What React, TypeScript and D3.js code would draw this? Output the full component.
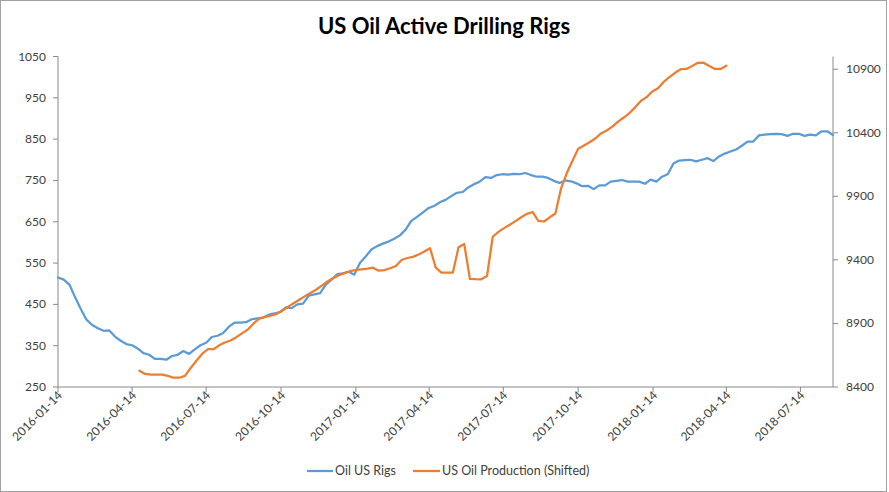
import { useEffect } from 'react';
import * as d3 from 'd3';

// Weekly oil rig count, first week 2016-01-14
const rigStart = '2016-01-14';
const rigCounts = [
  515, 510, 498, 467, 439, 413, 400, 392, 386, 387, 372, 362, 354, 351, 343, 332, 328, 318, 318, 316,
  325, 328, 337, 330, 341, 351, 357, 371, 374, 381, 396, 406, 406, 407, 414, 416, 418, 425, 428, 432,
  443, 441, 450, 452, 471, 474, 477, 498, 510, 523, 525,
  529, 522, 551, 566, 583, 591, 597, 602, 609, 617, 631, 652, 662, 672, 683, 688, 697, 703, 712, 720,
  722, 733, 741, 747, 758, 756, 763, 765, 764, 766, 765, 768, 763, 759, 759, 756, 749, 744, 750, 748,
  743, 736, 737, 729, 738, 738, 747, 749, 751, 747, 747, 747,
  742, 752, 747, 759, 765, 791, 798, 799, 800, 796, 800, 804, 797, 808, 815, 820, 825, 834, 844, 844,
  859, 861, 862, 863, 862, 858, 863, 863, 858, 861, 859, 869, 869, 860,
];

// Weekly US oil production (shifted), first week 2016-04-23
const prodStart = '2016-04-23';
const production = [
  8528, 8503, 8497, 8497, 8497, 8488, 8473, 8473, 8488, 8550, 8606, 8660, 8697, 8697, 8728, 8750,
  8766, 8792, 8822, 8851, 8898, 8938, 8950, 8962, 8973, 8998, 9028, 9057, 9085, 9113, 9140, 9165,
  9197, 9230, 9256, 9280, 9296, 9312, 9322, 9326, 9331, 9339, 9315, 9320, 9334, 9352, 9399, 9415,
  9424, 9442, 9466, 9492, 9339, 9300, 9299, 9299, 9499, 9525, 9250, 9248, 9247, 9273, 9582, 9620,
  9650, 9676, 9705, 9735, 9762, 9777, 9706, 9702, 9735, 9765, 9963, 10083, 10180, 10275, 10300, 10325,
  10355, 10395, 10418, 10448, 10488, 10520, 10555, 10600, 10650, 10680, 10725, 10750, 10800, 10837, 10872, 10900,
  10902, 10925, 10950, 10951, 10925, 10902, 10902, 10928,
];

const xTickLabels = [
  '2016-01-14', '2016-04-14', '2016-07-14', '2016-10-14', '2017-01-14', '2017-04-14',
  '2017-07-14', '2017-10-14', '2018-01-14', '2018-04-14', '2018-07-14',
];
const leftTicks = [250, 350, 450, 550, 650, 750, 850, 950, 1050];
const rightTicks = [8400, 8900, 9400, 9900, 10400, 10900];
const rightMax = 11000;

const seriesNames = ['Oil US Rigs', 'US Oil Production (Shifted)'];
const colors = ['#5B9BD5', '#ED7D31'];

const W = 889;
const H = 492;
const left = 58;
const right = 833;
const top = 56.5;
const bottom = 387;
const font = 'Lato, "Open Sans", sans-serif';
const axisColor = '#898989';
const textColor = '#404040';
const tickSize = 12;

const parse = d3.utcParse('%Y-%m-%d');

type Pt = { date: Date; value: number };

function weekly(start: string, values: number[]): Pt[] {
  const s = parse(start) as Date;
  return values.map((v, i) => ({ date: d3.utcDay.offset(s, i * 7), value: v }));
}

export default function App() {
  useEffect(() => {
    document.body.style.margin = '0';
  }, []);

  const rigs = weekly(rigStart, rigCounts);
  const prod = weekly(prodStart, production);

  const x = d3.scaleUtc()
    .domain([rigs[0].date, rigs[rigs.length - 1].date])
    .range([left, right]);
  const yLeft = d3.scaleLinear().domain([leftTicks[0], leftTicks[leftTicks.length - 1]]).range([bottom, top]);
  const yRight = d3.scaleLinear().domain([rightTicks[0], rightMax]).range([bottom, top]);

  const lineLeft = d3.line<Pt>().x(d => x(d.date)).y(d => yLeft(d.value));
  const lineRight = d3.line<Pt>().x(d => x(d.date)).y(d => yRight(d.value));

  const xTicks = xTickLabels.map(s => ({ label: s, date: parse(s) as Date }));

  return (
    <svg width={W} height={H} style={{ display: 'block', fontFamily: font }}>
      <rect x={0.5} y={0.5} width={886} height={H - 1} fill="#fff" stroke="#a0a0a0" />
      <text x={444} y={34} textAnchor="middle" fontSize={22} fontWeight="bold" fill="#000">
        US Oil Active Drilling Rigs
      </text>

      {/* left axis */}
      <line x1={left} x2={left} y1={top} y2={bottom} stroke={axisColor} />
      {leftTicks.map(t => (
        <g key={t}>
          <line x1={left - 5} x2={left} y1={yLeft(t)} y2={yLeft(t)} stroke={axisColor} />
          <text x={46} y={yLeft(t) + 4} textAnchor="end" fontSize={tickSize} fill={textColor}>{t}</text>
        </g>
      ))}

      {/* right axis */}
      <line x1={right} x2={right} y1={top} y2={bottom} stroke={axisColor} />
      {rightTicks.map(t => (
        <g key={t}>
          <line x1={right} x2={right + 5} y1={yRight(t)} y2={yRight(t)} stroke={axisColor} />
          <text x={846} y={yRight(t) + 4} textAnchor="start" fontSize={tickSize} fill={textColor}>{t}</text>
        </g>
      ))}

      {/* bottom axis */}
      <line x1={left} x2={right} y1={bottom} y2={bottom} stroke={axisColor} />
      {xTicks.map(t => (
        <g key={t.label}>
          <line x1={x(t.date)} x2={x(t.date)} y1={bottom} y2={bottom + 5} stroke={axisColor} />
          <text
            transform={`translate(${x(t.date) + 5},${bottom + 9}) rotate(-45)`}
            textAnchor="end"
            fontSize={tickSize}
            fill={textColor}
          >
            {t.label}
          </text>
        </g>
      ))}

      <path d={lineLeft(rigs) ?? ''} fill="none" stroke={colors[0]} strokeWidth={2.25} strokeLinejoin="round" strokeLinecap="round" />
      <path d={lineRight(prod) ?? ''} fill="none" stroke={colors[1]} strokeWidth={2.25} strokeLinejoin="round" strokeLinecap="round" />

      {/* legend */}
      <g fontSize={12.5} fill={textColor}>
        <line x1={307} x2={333} y1={471} y2={471} stroke={colors[0]} strokeWidth={2.25} />
        <text x={335} y={475}>{seriesNames[0]}</text>
        <line x1={413} x2={440} y1={471} y2={471} stroke={colors[1]} strokeWidth={2.25} />
        <text x={442} y={475}>{seriesNames[1]}</text>
      </g>
    </svg>
  );
}
